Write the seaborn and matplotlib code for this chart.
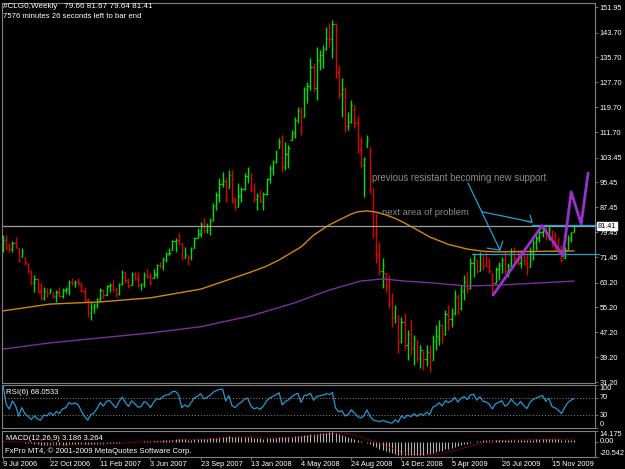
# ------------------------------------------------------------------------------
# Weekly crude oil chart (#CLG0) in the MetaTrader 4 look: OHLC bars, two
# moving averages, hand drawn trend lines, RSI(6) and MACD(12,26,9) panels.
# ------------------------------------------------------------------------------

import numpy as np
import pandas as pd
import matplotlib
matplotlib.use("Agg")
import matplotlib.pyplot as plt
import seaborn as sns

sns.set_style("dark", {"axes.facecolor": "black", "figure.facecolor": "black"})
plt.rcParams['font.family'] = ['Liberation Sans', 'DejaVu Sans']

# ------------------------------------------------------------------------------
# Data (one bar per week, first week 9 Jul 2006)
# ------------------------------------------------------------------------------
first_week = "2006-07-09"
first_open = 74.0

highs = [78.5, 78.5, 76.0, 76.6, 77.9, 74.3, 74.3, 71.4, 69.5, 67.3,
         65.6, 64.7, 63.1, 61.8, 61.5, 61.5, 60.2, 60.8, 61.8, 61.5,
         61.8, 64.0, 64.7, 64.0, 64.7, 63.4, 61.8, 58.3, 57.0, 56.6,
         58.3, 61.5, 60.8, 62.5, 63.1, 64.0, 61.8, 63.1, 67.3, 66.6,
         64.7, 66.6, 66.6, 66.6, 63.1, 66.6, 67.6, 66.3, 67.6, 69.2,
         69.8, 71.4, 73.0, 74.3, 77.0, 77.6, 79.2, 76.0, 74.6, 72.0,
         74.6, 77.9, 80.8, 82.7, 84.0, 82.4, 84.0, 88.9, 92.4, 96.9,
         98.8, 96.9, 99.4, 99.4, 90.8, 95.3, 94.0, 98.5, 100.4, 98.5,
         95.3, 92.0, 93.0, 92.4, 96.9, 101.0, 102.7, 105.9, 109.8, 110.8,
         108.5, 107.5, 112.3, 116.5, 119.7, 119.7, 126.2, 127.8, 135.5, 134.0,
         139.0, 138.0, 139.7, 145.5, 146.8, 147.8, 146.8, 133.3, 129.0, 126.2,
         118.0, 122.0, 120.4, 117.2, 110.0, 103.6, 110.7, 106.9, 93.7, 85.6,
         76.3, 71.1, 66.3, 65.6, 59.9, 56.0, 52.8, 52.1, 53.4, 48.0,
         51.2, 46.3, 44.7, 43.1, 41.5, 43.0, 43.1, 46.3, 49.6, 51.2,
         50.0, 54.4, 56.0, 55.0, 60.8, 59.5, 62.5, 65.6, 66.5, 71.1,
         72.7, 70.5, 73.0, 72.0, 73.0, 71.0, 66.3, 68.2, 69.8, 71.4,
         73.0, 69.5, 74.3, 74.6, 73.7, 73.7, 74.6, 72.7, 74.6, 77.0,
         78.6, 80.2, 81.8, 81.1, 81.8, 80.2, 79.5, 77.9, 75.3, 74.6,
         78.6, 79.5, 81.67]

lows = [73.1, 73.7, 73.0, 73.0, 74.3, 69.8, 71.4, 68.9, 66.3, 62.5,
        60.2, 59.9, 57.6, 57.6, 58.6, 59.9, 58.3, 57.0, 58.6, 58.3,
        59.9, 59.2, 62.5, 61.8, 62.5, 60.2, 57.0, 52.1, 51.2, 53.4,
        55.0, 57.0, 58.3, 59.2, 60.2, 60.2, 58.6, 59.2, 62.5, 63.1,
        61.5, 62.5, 64.0, 61.8, 60.8, 61.8, 64.7, 62.5, 64.7, 64.7,
        67.9, 67.3, 69.8, 72.0, 73.7, 73.0, 75.4, 70.5, 71.1, 68.9,
        70.5, 74.3, 77.6, 77.9, 79.2, 79.2, 78.6, 83.0, 86.6, 89.2,
        94.0, 89.2, 93.7, 88.9, 86.6, 87.6, 89.2, 93.0, 95.3, 92.4,
        89.2, 86.6, 88.9, 86.6, 91.4, 95.3, 97.8, 101.7, 106.5, 98.8,
        99.4, 100.1, 109.1, 109.8, 114.6, 110.8, 116.5, 121.0, 125.2, 124.6,
        122.0, 131.7, 132.3, 138.0, 139.0, 135.5, 129.0, 122.6, 116.5, 111.7,
        112.3, 114.6, 113.0, 105.0, 100.0, 90.8, 106.9, 92.0, 77.6, 69.5,
        65.6, 61.5, 60.2, 55.0, 48.9, 50.2, 40.5, 43.8, 41.5, 38.3,
        39.9, 36.7, 37.6, 35.7, 35.0, 36.5, 34.4, 38.3, 41.5, 43.1,
        43.8, 46.3, 48.0, 49.0, 52.8, 53.0, 54.5, 57.6, 60.0, 61.0,
        65.0, 66.3, 67.0, 67.3, 68.2, 66.3, 59.2, 63.1, 64.0, 66.3,
        66.0, 65.0, 68.5, 69.8, 68.9, 67.9, 68.9, 65.6, 68.2, 70.5,
        73.7, 76.3, 77.9, 77.0, 77.0, 74.6, 73.7, 72.7, 69.8, 71.1,
        73.7, 76.3, 79.64]

closes = [77.0, 75.0, 74.0, 76.0, 75.0, 70.5, 73.5, 69.5, 67.0, 63.0,
          64.5, 60.5, 58.2, 60.5, 59.5, 60.8, 58.8, 60.2, 59.0, 60.8,
          61.2, 63.5, 63.0, 63.5, 62.9, 60.6, 57.5, 53.5, 55.5, 56.0,
          57.8, 60.8, 59.2, 62.0, 62.5, 61.0, 59.5, 62.8, 66.5, 64.0,
          62.0, 66.0, 64.5, 62.5, 62.8, 65.8, 65.0, 63.0, 66.0, 68.8,
          68.5, 70.8, 72.5, 72.8, 76.5, 77.0, 76.0, 71.0, 72.5, 71.5,
          74.0, 77.5, 79.0, 82.0, 80.0, 81.5, 83.5, 88.0, 91.5, 95.0,
          96.0, 90.5, 98.0, 89.5, 87.5, 91.0, 93.5, 97.5, 99.0, 93.0,
          90.0, 91.0, 89.5, 91.8, 96.5, 100.0, 102.0, 105.0, 108.5, 100.5,
          104.5, 106.5, 111.5, 115.5, 118.5, 112.0, 125.5, 126.5, 132.5, 126.0,
          135.0, 136.5, 138.5, 142.0, 141.5, 146.5, 131.0, 124.0, 125.5, 113.5,
          115.0, 120.5, 114.5, 106.0, 101.0, 103.0, 109.5, 93.5, 79.0, 72.0,
          67.0, 68.5, 62.0, 57.0, 52.0, 55.0, 44.0, 50.5, 43.0, 46.5,
          42.0, 45.0, 39.0, 41.5, 38.5, 41.0, 37.5, 44.5, 46.0, 49.5,
          46.5, 53.0, 51.5, 53.5, 58.5, 55.0, 60.5, 63.5, 61.5, 69.5,
          71.0, 67.0, 72.5, 69.0, 68.5, 67.0, 63.0, 67.5, 69.0, 70.5,
          67.0, 68.5, 73.5, 71.0, 69.5, 72.8, 70.0, 68.0, 73.0, 76.0,
          77.5, 79.5, 80.5, 78.0, 80.8, 76.0, 75.0, 73.5, 70.5, 73.8,
          77.5, 79.66, 81.41]

# moving averages, read at a handful of bars
orange_ma_bars = [0, 15, 31, 47, 63, 70, 79, 84, 88, 95, 99, 104, 108, 111,
                  113, 116, 119, 122, 125, 128, 132, 136, 142, 148, 153, 158, 182]
orange_ma_vals = [54.1, 56.3, 57.0, 58.3, 61.1, 63.5, 66.6, 68.5, 70.5, 74.7,
                  78.5, 81.8, 83.8, 85.3, 86.0, 86.3, 85.9, 85.0, 83.9, 82.4,
                  80.2, 77.9, 75.5, 74.0, 73.3, 73.1, 73.4]
purple_ma_bars = [0, 15, 31, 47, 63, 79, 93, 104, 114, 121, 128, 137, 148, 158, 182]
purple_ma_vals = [41.8, 43.8, 45.4, 47.0, 49.0, 52.5, 56.7, 60.8, 63.7, 64.4,
                  63.7, 63.1, 62.1, 62.4, 63.7]

# hand drawn objects (bar position, price)
zigzag_bars = [156.2, 171.8, 178.5, 181.1, 184.3, 186.5]
zigzag_vals = [59.2, 81.5, 71.8, 92.4, 82.1, 98.5]
cyan_segments = [
    [(148.2, 95.3), (158.4, 73.7)],
    [(154.3, 74.3), (158.4, 73.7)],
    [(159.3, 76.6), (158.4, 73.7)],
    [(152.7, 86.0), (168.6, 82.7)],
    [(167.0, 82.9), (168.6, 82.7)],
    [(168.0, 85.0), (168.6, 82.7)],
    [(168.5, 81.6), (190.0, 81.6)],
    [(149.5, 72.3), (190.0, 72.3)],
]
bid_price = 81.41

price_ticks = [151.95, 143.70, 135.70, 127.70, 119.70, 111.70, 103.45, 95.45,
               87.45, 79.45, 71.45, 63.20, 55.20, 47.20, 39.20, 31.20]
date_labels = ["9 Jul 2006", "22 Oct 2006", "11 Feb 2007", "3 Jun 2007",
               "23 Sep 2007", "13 Jan 2008", "4 May 2008", "24 Aug 2008",
               "14 Dec 2008", "5 Apr 2009", "26 Jul 2009", "15 Nov 2009"]

# ------------------------------------------------------------------------------
# Derived series
# ------------------------------------------------------------------------------
closes = np.array(closes)
highs = np.array(highs)
lows = np.array(lows)
opens = np.clip(np.r_[first_open, closes[:-1]], lows, highs)
x = np.arange(len(closes))
weeks = pd.date_range(first_week, periods=len(closes), freq="7D")

s = pd.Series(closes)
# RSI(6): change of every close against the one before (first bar against its open)
delta = pd.Series(np.diff(np.r_[first_open, closes]))
gain = delta.clip(lower=0).ewm(alpha=1 / 6, adjust=True).mean()
loss = (-delta.clip(upper=0)).ewm(alpha=1 / 6, adjust=True).mean()
rsi = 100 * gain / (gain + loss)

macd = s.ewm(span=12, adjust=False).mean() - s.ewm(span=26, adjust=False).mean()
signal = macd.rolling(9, min_periods=1).mean()

# ------------------------------------------------------------------------------
# Figure layout (pixel boxes of the 625x469 screenshot)
# ------------------------------------------------------------------------------
W, H = 625, 469
fig = plt.figure(figsize=(W / 100, H / 100), dpi=100)
fig.patch.set_facecolor("black")


def box(top, bottom):
    return [2 / W, 1 - bottom / H, 593 / W, (bottom - top) / H]


ax = fig.add_axes(box(3, 383))
ax_rsi = fig.add_axes(box(385, 428))
ax_macd = fig.add_axes(box(431, 457))

frame = "#808080"
fs = 5.3
for a in (ax, ax_rsi, ax_macd):
    a.set_facecolor("black")
    a.set_xlim(-0.32, 188.7)
    for sp in a.spines.values():
        sp.set_color(frame)
        sp.set_linewidth(0.8)
    a.yaxis.tick_right()
    a.tick_params(axis="y", right=True, left=False, length=2, width=0.6,
                  color=frame, labelcolor="white", labelsize=fs, pad=1.5)
    a.tick_params(axis="x", bottom=False, labelbottom=False)
    a.grid(False)

# ------------------------------------------------------------------------------
# Main price panel
# ------------------------------------------------------------------------------
ax.set_ylim(30.88, 153.24)
bar_colors = np.where(closes >= opens, "#00e000", "#e00000")
ax.vlines(x, lows, highs, colors=bar_colors, lw=1.0)
ax.hlines(opens, x - 0.4, x, colors=bar_colors, lw=0.9)
ax.hlines(closes, x, x + 0.4, colors=bar_colors, lw=0.9)

sns.lineplot(x=orange_ma_bars, y=orange_ma_vals, ax=ax, color="#d4870f", lw=1.0)
sns.lineplot(x=purple_ma_bars, y=purple_ma_vals, ax=ax, color="#7e2ea0", lw=1.0)

ax.axhline(bid_price, color="#a0a0a0", lw=0.9)
for seg in cyan_segments:
    (x0, y0), (x1, y1) = seg
    ax.plot([x0, x1], [y0, y1], color="#1e9fd6", lw=0.9, clip_on=False)
sns.lineplot(x=zigzag_bars, y=zigzag_vals, ax=ax, color="#9932cc", lw=2.0,
             sort=False)
ax.lines[-1].set_clip_on(False)

ax.text(117.7, 96.9, "previous resistant becoming new support", color="#8c8c8c",
        fontsize=6.9, va="center", ha="left")
ax.text(120.8, 85.9, "next area of problem", color="#8c8c8c",
        fontsize=6.8, va="center", ha="left")

ax.set_yticks(price_ticks)
ax.set_yticklabels([f"{v:.2f}" for v in price_ticks])
ax.set_ylabel("")
ax.text(1.004, bid_price, f"{bid_price:.2f}", transform=ax.get_yaxis_transform(),
        color="black", fontsize=fs, va="center", ha="left", zorder=10,
        bbox=dict(facecolor="white", edgecolor="white", pad=0.6), clip_on=False)

fig.text(3 / W, 1 - 7 / H, "#CLG0,Weekly   79.66 81.67 79.64 81.41",
         color="white", fontsize=5.9, va="center", ha="left")
fig.text(3 / W, 1 - 16 / H, "7576 minutes 26 seconds left to bar end",
         color="white", fontsize=5.6, va="center", ha="left")

# ------------------------------------------------------------------------------
# RSI panel
# ------------------------------------------------------------------------------
ax_rsi.set_ylim(0, 100)
sns.lineplot(x=x, y=rsi.values, ax=ax_rsi, color="#1f9ad6", lw=0.9)
for lvl in (70, 30):
    ax_rsi.axhline(lvl, color="#909090", lw=0.7, ls=(0, (1, 2)))
ax_rsi.set_yticks([100, 70, 30, 0])
ax_rsi.set_yticklabels(["100", "70", "30", "0"])
for lbl, va in zip(ax_rsi.get_yticklabels(), ["top", "center", "center", "bottom"]):
    lbl.set_va(va)
ax_rsi.set_ylabel("")
fig.text(6 / W, 1 - 392 / H, "RSI(6) 68.0533", color="white", fontsize=5.6,
         va="center", ha="left")

# ------------------------------------------------------------------------------
# MACD panel
# ------------------------------------------------------------------------------
ax_macd.set_ylim(-20.542, 14.175)
ax_macd.vlines(x, 0, macd.values, colors="#b0b0b0", lw=0.8)
sns.lineplot(x=x, y=signal.values, ax=ax_macd, color="#e00000", lw=0.8,
             linestyle=(0, (1, 1.5)))
ax_macd.set_yticks([14.175, 0, -20.542])
ax_macd.set_yticklabels(["14.175", "0.00", "-20.542"])
for lbl, va in zip(ax_macd.get_yticklabels(), ["top", "center", "bottom"]):
    lbl.set_va(va)
ax_macd.set_ylabel("")
fig.text(6 / W, 1 - 438 / H, "MACD(12,26,9) 3.186 3.264", color="white",
         fontsize=5.6, va="center", ha="left")
fig.text(5 / W, 1 - 451 / H, "FxPro MT4, \u00a9 2001-2009 MetaQuotes Software Corp.",
         color="white", fontsize=5.6, va="center", ha="left")

# date axis under the MACD panel
date_pos = [(pd.Timestamp(pd.to_datetime(d)) - weeks[0]).days / 7 for d in date_labels]
ax_macd.set_xticks(date_pos)
ax_macd.set_xticklabels(date_labels, ha="left")
ax_macd.tick_params(axis="x", bottom=True, labelbottom=True, length=2, width=0.6,
                    color=frame, labelcolor="white", labelsize=fs, pad=1.0)
ax_macd.set_xlabel("")

fig.savefig("out.png", dpi=100, facecolor="black")
